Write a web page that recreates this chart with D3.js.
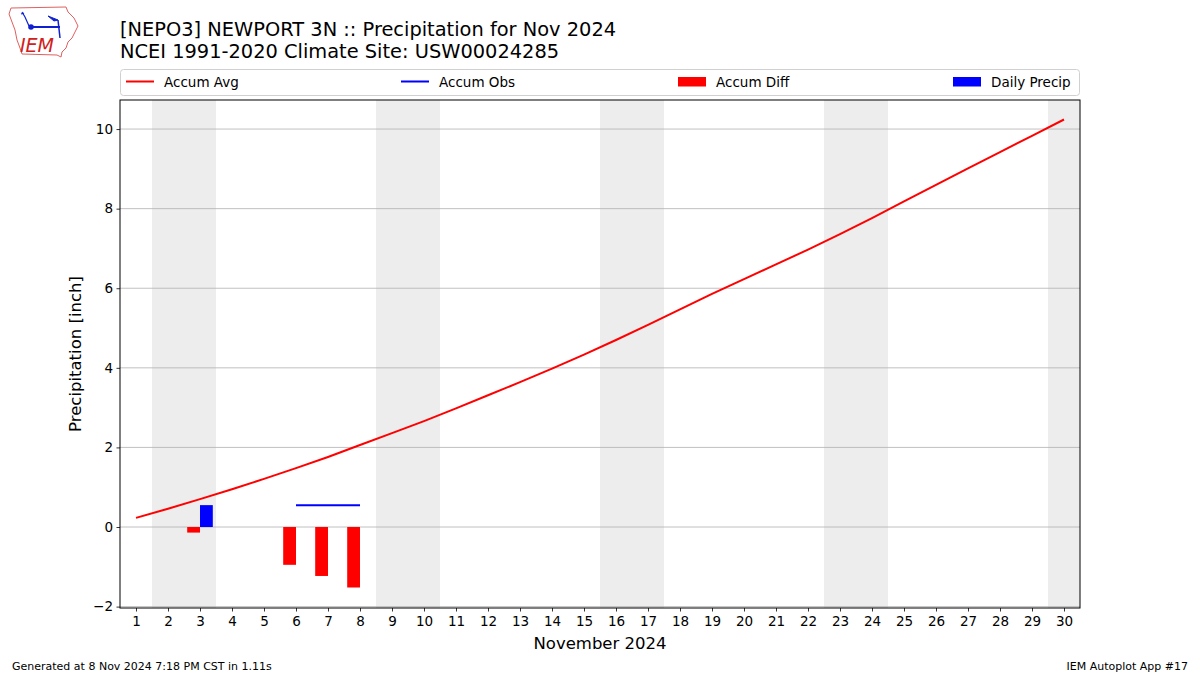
<!DOCTYPE html>
<html>
<head>
<meta charset="utf-8">
<script src="https://cdn.jsdelivr.net/npm/d3@7"></script>
<style>
  body { margin: 0; background: #fff; }
  text { font-family: "DejaVu Sans", sans-serif; }
</style>
</head>
<body>
<div id="chart"></div>
<script>
// jours du mois
const days = d3.range(1, 31);
// precipitation moyenne cumulée (climat)
const accumAvg = [0.23, 0.46, 0.70, 0.95, 1.21, 1.48, 1.76, 2.06, 2.36, 2.66,
  2.98, 3.31, 3.64, 3.98, 4.33, 4.70, 5.08, 5.47, 5.86, 6.23,
  6.60, 6.97, 7.36, 7.76, 8.18, 8.60, 9.01, 9.42, 9.83, 10.24];
// observé cumulé (null = manquant)
const accumObs = [null, null, null, null, null, 0.55, 0.55, 0.55];
// écart cumulé
const diffDays = [3, 6, 7, 8];
const accumDiff = [-0.14, -0.95, -1.23, -1.52];
// précip quotidienne
const precipDays = [3];
const dailyPrecip = [0.55];
const weekendStarts = [2, 9, 16, 23, 30];
const yTicks = [-2, 0, 2, 4, 6, 8, 10];

const width = 1200, height = 675;
const margin = { top: 100, right: 120, bottom: 67, left: 120 };

const svg = d3.select("#chart").append("svg")
  .attr("width", width).attr("height", height);

const x = d3.scaleLinear().domain([0.5, 30.5]).range([margin.left, width - margin.right]);
const y = d3.scaleLinear().domain([-2.035, 10.73]).range([height - margin.bottom, margin.top]);

svg.append("defs").append("clipPath").attr("id", "clip")
  .append("rect").attr("x", x(0.5)).attr("y", y(10.73))
  .attr("width", x(30.5) - x(0.5)).attr("height", y(-2.035) - y(10.73));

const plot = svg.append("g").attr("clip-path", "url(#clip)");

// week-ends
plot.selectAll("rect.we").data(weekendStarts).join("rect")
  .attr("class", "we")
  .attr("x", d => x(d - 0.5))
  .attr("width", x(2) - x(0))
  .attr("y", y(10.73)).attr("height", y(-2.035) - y(10.73))
  .attr("fill", "#ededed");

// grille
plot.selectAll("line.grid").data(yTicks).join("line")
  .attr("x1", x(0.5)).attr("x2", x(30.5))
  .attr("y1", d => y(d)).attr("y2", d => y(d))
  .attr("stroke", "#b0b0b0").attr("stroke-width", 0.8);

// barres
const bw = x(0.4) - x(0);
plot.selectAll("rect.diff").data(diffDays).join("rect")
  .attr("x", d => x(d) - bw)
  .attr("width", bw)
  .attr("y", (d, i) => y(Math.max(0, accumDiff[i])))
  .attr("height", (d, i) => Math.abs(y(accumDiff[i]) - y(0)))
  .attr("fill", "red");
plot.selectAll("rect.pr").data(precipDays).join("rect")
  .attr("x", d => x(d))
  .attr("width", bw)
  .attr("y", (d, i) => y(dailyPrecip[i]))
  .attr("height", (d, i) => y(0) - y(dailyPrecip[i]))
  .attr("fill", "blue");

// lignes
const line = d3.line().defined(d => d[1] != null).x(d => x(d[0])).y(d => y(d[1]));
plot.append("path")
  .datum(days.map((d, i) => [d, accumAvg[i]]))
  .attr("fill", "none").attr("stroke", "red").attr("stroke-width", 2)
  .attr("d", line);
plot.append("path")
  .datum(accumObs.map((v, i) => [days[i], v]))
  .attr("fill", "none").attr("stroke", "blue").attr("stroke-width", 2)
  .attr("d", line);

// axes
const xAxis = svg.append("g")
  .attr("transform", `translate(0,${y(-2.035)})`)
  .call(d3.axisBottom(x).tickValues(days).tickSize(3.5).tickPadding(5).tickFormat(d3.format("d")));
const yAxis = svg.append("g")
  .attr("transform", `translate(${x(0.5)},0)`)
  .call(d3.axisLeft(y).tickValues(yTicks).tickSize(3.5).tickPadding(3.5).tickFormat(d3.format("d")));
[xAxis, yAxis].forEach(a => {
  a.select(".domain").remove();
  a.selectAll("text").attr("font-size", 13.5).attr("fill", "#000")
    .attr("font-family", "DejaVu Sans, sans-serif");
  a.selectAll("line").attr("stroke", "#000").attr("stroke-width", 0.8);
});

// cadre
svg.append("rect")
  .attr("x", x(0.5)).attr("y", y(10.73))
  .attr("width", x(30.5) - x(0.5)).attr("height", y(-2.035) - y(10.73))
  .attr("fill", "none").attr("stroke", "#000").attr("stroke-width", 1);

// libellés
svg.append("text").attr("x", 600).attr("y", 649).attr("text-anchor", "middle")
  .attr("font-size", 16.5).text("November 2024");
svg.append("text").attr("transform", "translate(81,354) rotate(-90)")
  .attr("text-anchor", "middle").attr("font-size", 16.5).text("Precipitation [inch]");

svg.append("text").attr("x", 120).attr("y", 36).attr("font-size", 19.4).text("[NEPO3] NEWPORT 3N :: Precipitation for Nov 2024");
svg.append("text").attr("x", 120).attr("y", 58).attr("font-size", 19.4).text("NCEI 1991-2020 Climate Site: USW00024285");

// légende
const leg = svg.append("g");
leg.append("rect").attr("x", 120.5).attr("y", 69.5).attr("width", 959).attr("height", 26)
  .attr("rx", 3).attr("fill", "#fff").attr("stroke", "#d0d0d0");
const legItems = [
  { label: "Accum Avg", color: "red", type: "line", x: 126 },
  { label: "Accum Obs", color: "blue", type: "line", x: 401 },
  { label: "Accum Diff", color: "red", type: "rect", x: 678 },
  { label: "Daily Precip", color: "blue", type: "rect", x: 953 }
];
legItems.forEach(it => {
  if (it.type === "line") {
    leg.append("line").attr("x1", it.x).attr("x2", it.x + 28).attr("y1", 81.5).attr("y2", 81.5)
      .attr("stroke", it.color).attr("stroke-width", 2);
  } else {
    leg.append("rect").attr("x", it.x).attr("y", 77).attr("width", 28).attr("height", 9.5)
      .attr("fill", it.color);
  }
  leg.append("text").attr("x", it.x + 38).attr("y", 86.5).attr("font-size", 13.5).text(it.label);
});

// pied de page
svg.append("text").attr("x", 12).attr("y", 670).attr("font-size", 11).text("Generated at 8 Nov 2024 7:18 PM CST in 1.11s");
svg.append("text").attr("x", 1188).attr("y", 670).attr("text-anchor", "end").attr("font-size", 11).text("IEM Autoplot App #17");

// logo IEM (approx.)
const logo = svg.append("g");
logo.append("path")
  .attr("d", "M11,8 L66,7 L68,12 L74,18 L78,26 L75,32 L72,38 L68,42 L66,48 L62,52 L61,57 L57,55 L22,54 L20,48 L17,40 L15,30 L12,22 L9,14 Z")
  .attr("fill", "#fff").attr("stroke", "#e06060").attr("stroke-width", 1);
logo.append("line").attr("x1", 30).attr("x2", 60).attr("y1", 27).attr("y2", 27).attr("stroke", "#1020d0").attr("stroke-width", 2);
logo.append("circle").attr("cx", 31).attr("cy", 27).attr("r", 2.8).attr("fill", "#1020d0");
logo.append("path").attr("d", "M48,16 L58,20 L54,21 Z").attr("fill", "#1020d0").attr("stroke", "#1020d0");
logo.append("line").attr("x1", 58).attr("x2", 60).attr("y1", 20).attr("y2", 38).attr("stroke", "#1020d0").attr("stroke-width", 1.5);
logo.append("path").attr("d", "M22,12 L25,17 L29,26 M21,14 L24,13").attr("fill", "none").attr("stroke", "#1020d0").attr("stroke-width", 1.2);
logo.append("text").attr("x", 20).attr("y", 52).attr("font-family", "Liberation Serif, serif")
  .attr("font-style", "italic").attr("font-size", 19).attr("fill", "#d02020").text("IEM");
</script>
</body>
</html>
